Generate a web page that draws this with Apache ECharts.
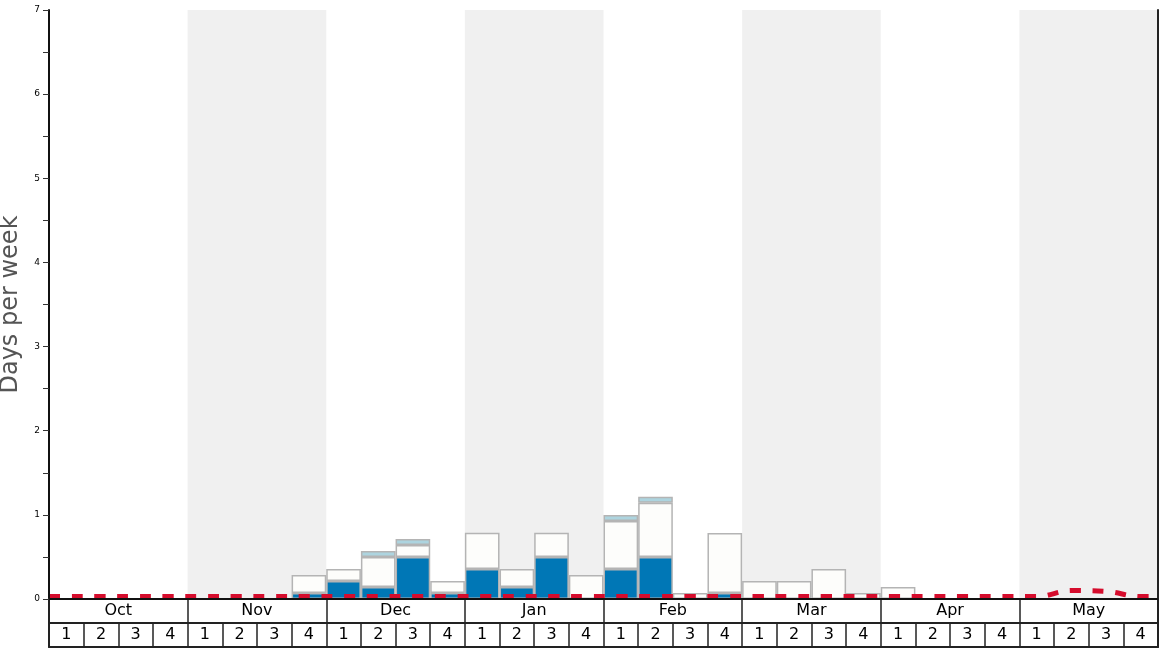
<!DOCTYPE html>
<html>
<head>
<meta charset="utf-8">
<script src="https://cdn.jsdelivr.net/npm/echarts@6/dist/echarts.min.js"></script>
<style>html,body{margin:0;padding:0;background:#fff}#c{width:1168px;height:648px}</style>
</head>
<body>
<div id="c"></div>
<script>
const months = ['Oct','Nov','Dec','Jan','Feb','Mar','Apr','May'];
const weekNumbers = ['1','2','3','4'];
const shadedMonths = [0,1,0,1,0,1,0,1];
// days per week, 32 weeks (Oct wk1 .. May wk4)
const blueDays  = [0,0,0,0, 0,0,0,0.071, 0.214,0.143,0.5,0.071, 0.357,0.143,0.5,0, 0.357,0.5,0,0.071, 0,0,0,0, 0,0,0,0, 0,0,0,0];
const whiteDays = [0,0,0,0, 0,0,0,0.214, 0.143,0.357,0.143,0.143, 0.429,0.214,0.286,0.286, 0.571,0.643,0.071,0.714, 0.214,0.214,0.357,0.071, 0.143,0,0,0, 0,0,0,0];
const lightDays = [0,0,0,0, 0,0,0,0, 0,0.071,0.071,0, 0,0,0,0, 0.071,0.071,0,0, 0,0,0,0, 0,0,0,0, 0,0,0,0];
const trendDays = [0.03,0.03,0.03,0.03, 0.03,0.03,0.03,0.03, 0.03,0.03,0.03,0.03, 0.03,0.03,0.03,0.03, 0.03,0.03,0.03,0.03, 0.03,0.03,0.03,0.03, 0.03,0.03,0.03,0.03, 0.03,0.10,0.09,0.03];

const weekCats = [];
months.forEach(m => weekNumbers.forEach(w => weekCats.push(m + '-' + w)));
const nz = arr => arr.map(v => v === 0 ? '-' : v);
const nW = weekCats.length;
const trendPts = [[0, trendDays[0]]];
trendDays.forEach((v, i) => trendPts.push([i + 0.5, v]));
trendPts.push([nW, trendDays[nW - 1]]);

const FONT = 'DejaVu Sans';
const DARK = '#222';
const chart = echarts.init(document.getElementById('c'), null, {renderer: 'canvas'});
const barBorder = {borderColor: '#b4b4b4', borderWidth: 1.5};
const hiddenCat = (data, grid) => ({type: 'category', data, gridIndex: grid, show: false});
const edgeY = (grid, pos) => ({type: 'value', gridIndex: grid, position: pos, min: 0, max: 1, z: 5,
  axisLine: {show: true, lineStyle: {color: DARK, width: 2}},
  axisTick: {show: false}, axisLabel: {show: false}, splitLine: {show: false}});
const rowAxis = (data, grid, fmt) => ({type: 'category', data, gridIndex: grid, position: 'bottom', z: 5,
  axisLine: {lineStyle: {color: DARK, width: 2}},
  axisTick: {show: false},
  splitLine: {show: true, interval: 0, lineStyle: {color: DARK, width: 1.5}},
  axisLabel: {inside: true, interval: 0, margin: 4, fontSize: 16, color: '#000', fontFamily: FONT, formatter: fmt}});

chart.setOption({
  animation: false,
  grid: [
    {left: 49, right: 10, top: 10, bottom: 49, outerBoundsMode: 'none'},
    {left: 49, right: 10, top: 599, height: 24, outerBoundsMode: 'none'},
    {left: 49, right: 10, top: 623, height: 24, outerBoundsMode: 'none'}
  ],
  xAxis: [
    { type: 'category', data: weekCats, gridIndex: 0, position: 'bottom', z: 5,
      axisLine: {lineStyle: {color: '#999', width: 1.5}},
      axisTick: {show: false}, axisLabel: {show: false}, splitLine: {show: false} },
    { type: 'category', data: months, gridIndex: 0, position: 'top', z: 5,
      axisLine: {lineStyle: {color: '#111', width: 2}},
      axisTick: {show: false}, axisLabel: {show: false}, splitLine: {show: false} },
    hiddenCat(months, 0),
    { type: 'value', gridIndex: 0, min: 0, max: nW, show: false },
    rowAxis(months, 1, v => v),
    rowAxis(weekCats, 2, v => v.split('-')[1])
  ],
  yAxis: [
    { type: 'value', gridIndex: 0, min: 0, max: 7, interval: 1, z: 5,
      name: 'Days per week', nameLocation: 'middle', nameGap: 26,
      nameTextStyle: {fontSize: 24, color: '#555', fontFamily: FONT},
      axisLine: {show: true, lineStyle: {color: '#111', width: 2}},
      axisTick: {show: true, length: 6, lineStyle: {color: '#333'}},
      minorTick: {show: true, splitNumber: 2, length: 6, lineStyle: {color: '#333'}},
      axisLabel: {fontSize: 9, color: '#000', margin: 9, fontFamily: FONT},
      splitLine: {show: false} },
    edgeY(0, 'right'),
    edgeY(1, 'left'), edgeY(1, 'right'),
    edgeY(2, 'left'), edgeY(2, 'right')
  ],
  series: [
    { type: 'bar', xAxisIndex: 2, yAxisIndex: 0, z: 1, silent: true,
      barWidth: '100%',
      data: shadedMonths.map(s => s ? 7 : '-'),
      itemStyle: {color: '#f0f0f0'} },
    { type: 'bar', name: 'blue', xAxisIndex: 0, yAxisIndex: 0, stack: 'days', z: 2,
      barCategoryGap: '0%',
      data: nz(blueDays), itemStyle: Object.assign({color: '#0077b6'}, barBorder) },
    { type: 'bar', name: 'white', xAxisIndex: 0, yAxisIndex: 0, stack: 'days', z: 2,
      data: nz(whiteDays), itemStyle: Object.assign({color: '#fdfdfb'}, barBorder) },
    { type: 'bar', name: 'light', xAxisIndex: 0, yAxisIndex: 0, stack: 'days', z: 2,
      data: nz(lightDays), itemStyle: Object.assign({color: '#add4df'}, barBorder) },
    { type: 'line', xAxisIndex: 3, yAxisIndex: 0, z: 3, smooth: 0.4,
      showSymbol: false, symbol: 'none',
      data: trendPts,
      lineStyle: {color: '#d50c2c', width: 5, type: [11, 11.7]} }
  ]
});
</script>
</body>
</html>
